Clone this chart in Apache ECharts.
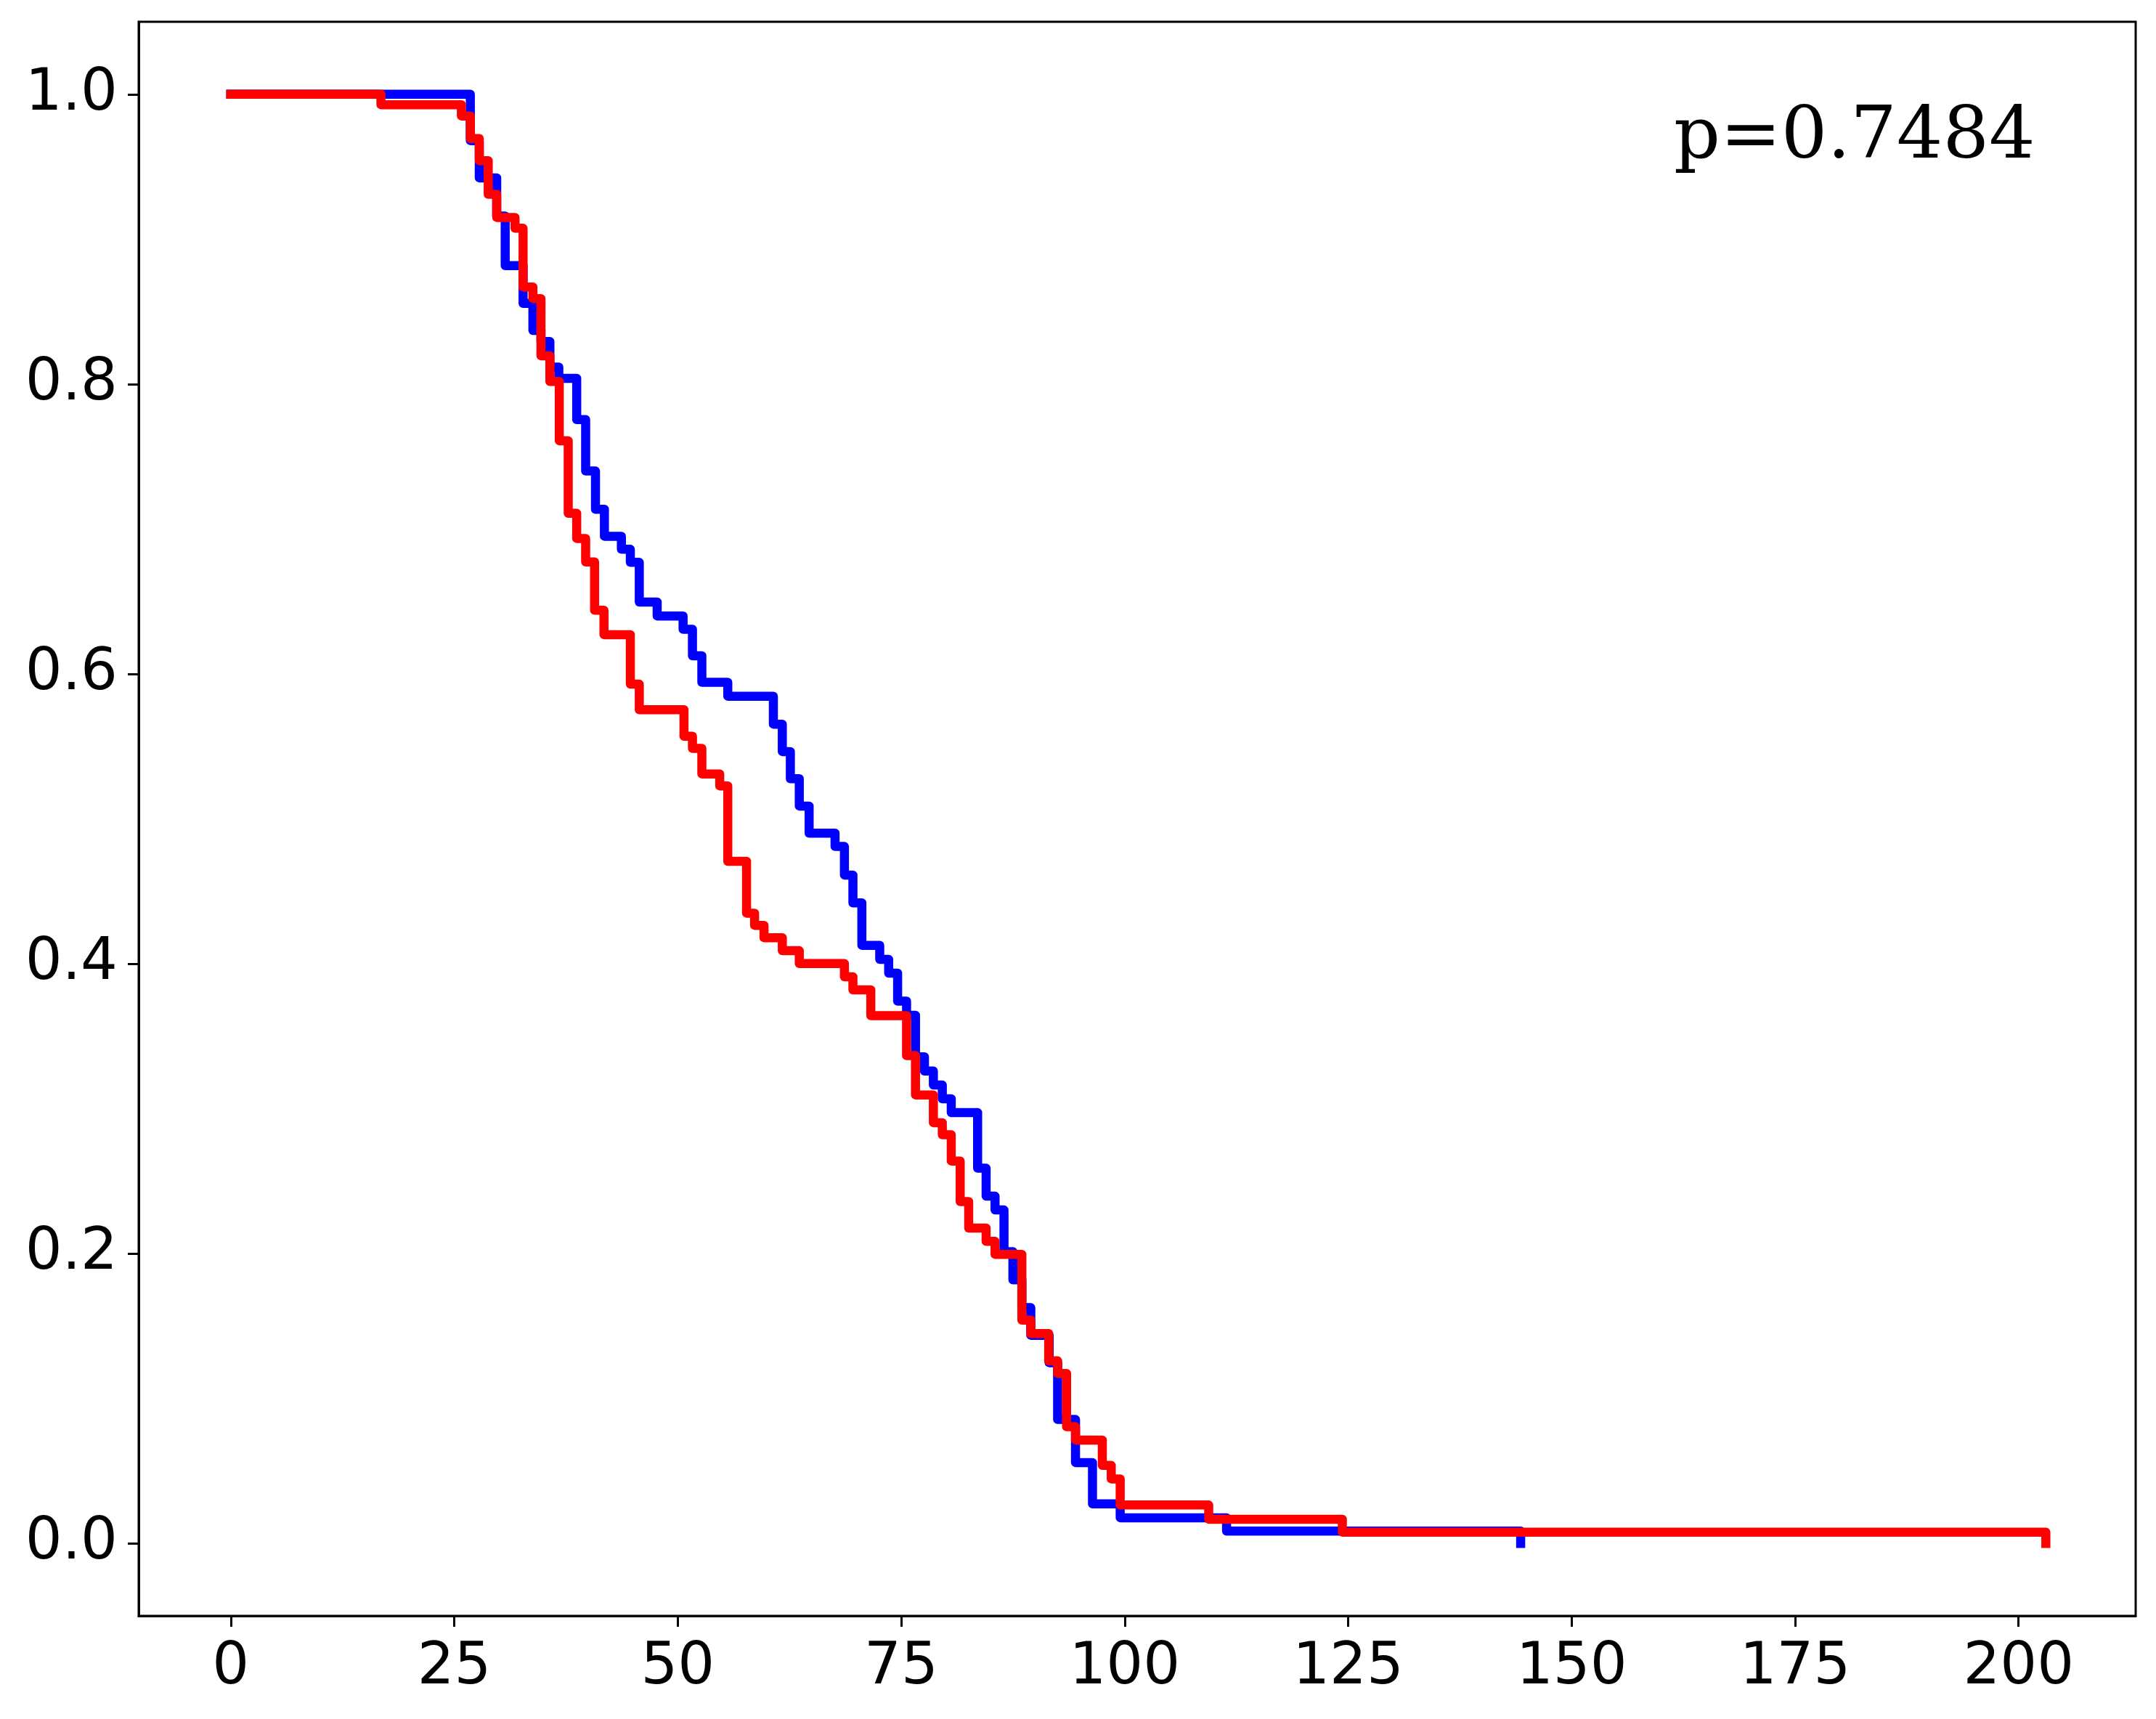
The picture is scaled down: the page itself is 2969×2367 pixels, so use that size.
<!DOCTYPE html>
<html><head><meta charset="utf-8">
<script src="https://cdn.jsdelivr.net/npm/echarts@6/dist/echarts.min.js"></script>
<style>html,body{margin:0;padding:0;background:#fff}#chart{width:2969px;height:2367px}</style>
</head><body><div id="chart"></div>
<script>
const blueTimes = [0, 26.8, 27.8, 29.75, 30.7, 32.7, 33.8, 34.7, 35.7, 36.7, 38.7, 39.7, 40.8, 41.8, 43.7, 44.7, 45.7, 47.7, 50.6, 51.65, 52.7, 55.6, 60.7, 61.7, 62.6, 63.6, 64.7, 67.6, 68.65, 69.6, 70.6, 72.6, 73.6, 74.6, 75.6, 76.6, 77.6, 78.6, 79.6, 80.6, 83.55, 84.5, 85.5, 86.5, 87.5, 88.5, 89.5, 91.55, 92.5, 94.5, 96.4, 99.5, 111.4, 144.3];
const blueSurv = [1.0, 0.968, 0.9423, 0.916, 0.8817, 0.8557, 0.837, 0.8294, 0.8117, 0.804, 0.7755, 0.740, 0.7136, 0.695, 0.686, 0.677, 0.6496, 0.640, 0.6308, 0.6125, 0.5942, 0.5846, 0.5653, 0.5464, 0.5277, 0.5088, 0.4901, 0.4809, 0.4612, 0.442, 0.4127, 0.403, 0.3935, 0.3742, 0.3645, 0.3358, 0.326, 0.3163, 0.3068, 0.2973, 0.2589, 0.2396, 0.2301, 0.2013, 0.1819, 0.1627, 0.1436, 0.1247, 0.0855, 0.0558, 0.0273, 0.0177, 0.0085, 0];
const redTimes = [0, 16.8, 25.8, 26.8, 27.8, 28.8, 29.75, 31.8, 32.7, 33.8, 34.7, 35.7, 36.75, 37.75, 38.7, 39.7, 40.7, 41.75, 44.7, 45.7, 50.7, 51.65, 52.7, 54.7, 55.6, 57.7, 58.6, 59.65, 61.7, 63.6, 68.65, 69.6, 71.6, 75.6, 76.6, 78.6, 79.6, 80.6, 81.6, 82.55, 84.5, 85.5, 88.5, 89.5, 91.5, 92.5, 93.5, 94.5, 97.5, 98.5, 99.5, 109.4, 124.35, 203.05];
const redSurv = [1.0, 0.9928, 0.985, 0.9695, 0.9542, 0.931, 0.915, 0.9075, 0.867, 0.859, 0.8195, 0.8018, 0.7609, 0.7108, 0.6935, 0.6773, 0.6439, 0.6271, 0.5929, 0.5753, 0.557, 0.5486, 0.531, 0.5227, 0.4707, 0.4349, 0.4265, 0.418, 0.409, 0.4001, 0.391, 0.382, 0.3642, 0.3366, 0.3095, 0.2903, 0.282, 0.2639, 0.2359, 0.2176, 0.2084, 0.1995, 0.1541, 0.1448, 0.126, 0.1173, 0.0805, 0.0713, 0.0538, 0.0445, 0.0265, 0.0167, 0.0078, 0];
const xTicks = [0, 25, 50, 75, 100, 125, 150, 175, 200];
const yTicks = [0, 0.2, 0.4, 0.6, 0.8, 1.0];
const pText = 'p=0.7484';

const chart = echarts.init(document.getElementById('chart'), null, {renderer: 'canvas'});
const zip = (t, s) => t.map((x, i) => [x, s[i]]);
const tickFont = {color: '#000', fontSize: 80, fontFamily: 'DejaVu Sans'};
chart.setOption({
  animation: false,
  backgroundColor: '#fff',
  grid: {left: 191, top: 30, width: 2750, height: 2195, show: true, borderColor: '#000', borderWidth: 3, containLabel: false},
  xAxis: {
    type: 'value', min: -10.3, max: 213.1,
    splitLine: {show: false},
    axisLine: {show: true, onZero: false, lineStyle: {color: '#000', width: 3}},
    axisTick: {show: true, customValues: xTicks, length: 15, lineStyle: {color: '#000', width: 3}},
    axisLabel: Object.assign({customValues: xTicks, margin: 32}, tickFont)
  },
  yAxis: {
    type: 'value', min: -0.05, max: 1.05,
    splitLine: {show: false},
    axisLine: {show: true, onZero: false, lineStyle: {color: '#000', width: 3}},
    axisTick: {show: true, customValues: yTicks, length: 15, lineStyle: {color: '#000', width: 3}},
    axisLabel: Object.assign({customValues: yTicks, margin: 29, formatter: v => Number(v).toFixed(1)}, tickFont)
  },
  series: [
    {type: 'line', data: zip(blueTimes, blueSurv), step: 'end', showSymbol: false, symbol: 'none', silent: true, z: 2,
     lineStyle: {color: '#0000ff', width: 12.5, cap: 'square', join: 'round'}},
    {type: 'line', data: zip(redTimes, redSurv), step: 'end', showSymbol: false, symbol: 'none', silent: true, z: 3,
     lineStyle: {color: '#ff0000', width: 12.5, cap: 'square', join: 'round'}}
  ],
  graphic: [{
    type: 'text', x: 2305, y: 191, z: 10,
    style: {text: pText, fill: '#000', fontSize: 100, fontFamily: 'DejaVu Serif', align: 'left', verticalAlign: 'middle'}
  }]
});
</script></body></html>
